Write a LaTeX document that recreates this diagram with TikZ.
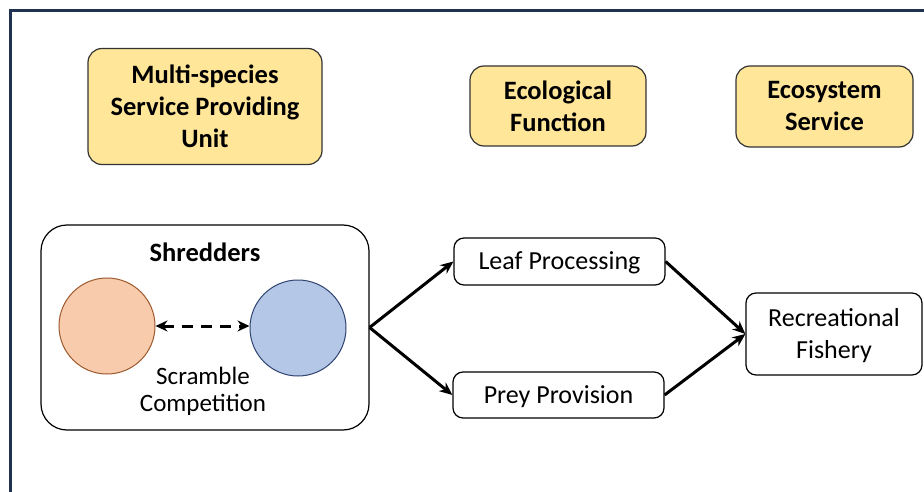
\documentclass[tikz,border=0pt]{standalone}
\usepackage{fontspec}
\setmainfont{Carlito}
\usetikzlibrary{arrows.meta}
\definecolor{frame}{HTML}{1F3252}
\definecolor{hdr}{HTML}{FFE699}
\definecolor{orng}{HTML}{F8CBAD}
\definecolor{orngd}{HTML}{9C5A2E}
\definecolor{blu}{HTML}{B4C7E7}
\definecolor{blud}{HTML}{2F4470}
\definecolor{bord}{HTML}{333333}
\begin{document}
\begin{tikzpicture}[x=1pt,y=-1pt,
  hdrbox/.style={draw=bord,line width=1.2pt,fill=hdr,rounded corners=14pt,align=center,font=\fontsize{26.5}{32}\selectfont\bfseries,inner sep=0pt},
  fbox/.style={draw=black,line width=1.2pt,fill=white,rounded corners=10pt,align=center,font=\fontsize{26}{32}\selectfont,inner sep=0pt,text depth=1pt},
  arr/.style={line width=3pt,-{Stealth[length=13pt,width=11pt]}},
  lbl/.style={font=\fontsize{25}{27}\selectfont,align=center}]
\useasboundingbox (0,0) rectangle (924,492);
\clip (0,0) rectangle (924,492);
\fill[white] (0,0) rectangle (924,492);
\draw[frame,line width=3.5pt] (10.5,10.5) rectangle (960,540);
% headers
\node[hdrbox,minimum width=234pt,minimum height=116pt] (h1) at (205,106.5) {Multi-species\\Service Providing\\Unit};
\node[hdrbox,minimum width=176pt,minimum height=80pt] (h2) at (558,106) {Ecological\\Function};
\node[hdrbox,minimum width=177pt,minimum height=81pt] (h3) at (824.5,106.5) {Ecosystem\\Service};
% shredders group
\node[draw=black,line width=1.2pt,rounded corners=26pt,minimum width=328pt,minimum height=205pt,inner sep=0pt] (grp) at (205,327.5) {};
\node[font=\fontsize{26.5}{30}\selectfont\bfseries] (shr) at (205,252) {Shredders};
\node[circle,draw=orngd,fill=orng,line width=1pt,minimum size=96pt,inner sep=0pt] (c1) at (107,326) {};
\node[circle,draw=blud,fill=blu,line width=1pt,minimum size=96pt,inner sep=0pt] (c2) at (298,328) {};
\draw[line width=3pt,dash pattern=on 11pt off 8pt,{Stealth[length=12pt,width=11pt]}-{Stealth[length=12pt,width=11pt]}] (c1.east) -- (c2.west|-c1.east);
\node[lbl] (sc) at (203,391) {Scramble\\Competition};
% function boxes
\node[fbox,minimum width=211pt,minimum height=47pt] (lp) at (559.5,261.5) {Leaf Processing};
\node[fbox,minimum width=211pt,minimum height=46pt] (pp) at (558.5,395) {Prey Provision};
\node[fbox,minimum width=176pt,minimum height=82pt] (rf) at (834,334) {Recreational\\Fishery};
% arrows
\coordinate (src) at (grp.east);
\draw[arr] (src) -- (lp.west);
\draw[arr] (src) -- (pp.west);
\draw[arr] (lp.east) -- (rf.west);
\draw[arr] (pp.east) -- (rf.west);
\end{tikzpicture}
\end{document}
